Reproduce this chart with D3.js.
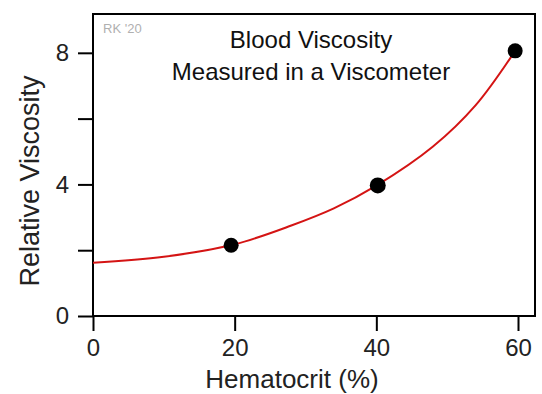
<!DOCTYPE html>
<html lang="en">
<head>
  <meta charset="utf-8">
  <title>Blood Viscosity</title>
  <style>
    body { margin: 0; background: #fff; font-family: 'Liberation Sans', Arial, sans-serif; }
    .axis path, .axis line { stroke: #000; stroke-width: 2; }
    .axis text { font-size: 24px; fill: #222; font-family: 'Liberation Sans', Arial, sans-serif; }
  </style>
</head>
<body>
  <div id="chart"></div>
  <script src="https://d3js.org/d3.v7.min.js"></script>
  <script>
    // measured points
    var hematocrit = [19.5, 40.2, 59.6];
    var viscosity = [2.15, 3.97, 8.06];

    // fitted curve
    var fitHematocrit = [0, 10, 20, 28, 34, 40, 48, 54, 59.6];
    var fitViscosity = [1.62, 1.8, 2.18, 2.75, 3.27, 3.96, 5.15, 6.4, 8.06];

    var xTicks = [0, 20, 40, 60];
    var yTicks = [0, 2, 4, 6, 8];
    var yLabelled = [0, 4, 8];

    var margin = { top: 14, right: 7, bottom: 78, left: 93 };
    var width = 542 - margin.left - margin.right;
    var height = 394 - margin.top - margin.bottom;

    var svg = d3.select("#chart")
      .append("svg")
      .attr("width", 542)
      .attr("height", 394)
      .append("g")
      .attr("transform", "translate(" + margin.left + "," + margin.top + ")");

    var x = d3.scaleLinear().domain([0, 62.4]).range([0, width]);
    var y = d3.scaleLinear().domain([0, 9.18]).range([height, 0]);

    // x axis
    svg.append("g")
      .attr("class", "axis")
      .attr("transform", "translate(0," + height + ")")
      .call(d3.axisBottom(x).tickValues(xTicks).tickSize(15).tickPadding(8).tickSizeOuter(0))
      .call(function(g) { g.select(".domain").remove(); });

    // y axis
    svg.append("g")
      .attr("class", "axis")
      .call(d3.axisLeft(y).tickValues(yTicks).tickSize(15).tickPadding(9).tickSizeOuter(0)
        .tickFormat(function(d) { return yLabelled.indexOf(d) >= 0 ? d : ""; }))
      .call(function(g) { g.select(".domain").remove(); });

    // frame
    svg.append("rect")
      .attr("x", 0)
      .attr("y", 0)
      .attr("width", width)
      .attr("height", height)
      .attr("fill", "none")
      .attr("stroke", "#000")
      .attr("stroke-width", 2);

    // fit curve
    var fit = fitHematocrit.map(function(h, i) { return [h, fitViscosity[i]]; });
    svg.append("path")
      .datum(fit)
      .attr("fill", "none")
      .attr("stroke", "#d41414")
      .attr("stroke-width", 2)
      .attr("d", d3.line()
        .x(function(d) { return x(d[0]); })
        .y(function(d) { return y(d[1]); })
        .curve(d3.curveCatmullRom));

    // points
    svg.selectAll(".pt")
      .data(hematocrit)
      .enter()
      .append("circle")
      .attr("class", "pt")
      .attr("cx", function(d) { return x(d); })
      .attr("cy", function(d, i) { return y(viscosity[i]); })
      .attr("r", function(d, i) { return i == 1 ? 8 : 7.5; })
      .attr("fill", "#000");

    // signature
    svg.append("text")
      .attr("x", 10)
      .attr("y", 19)
      .style("font-size", "13px")
      .style("fill", "#b0b0b0")
      .text("RK '20");

    // title
    var title = svg.append("text")
      .attr("text-anchor", "middle")
      .style("font-size", "24px")
      .style("fill", "#111");
    title.append("tspan").attr("x", 218).attr("y", 34).text("Blood Viscosity");
    title.append("tspan").attr("x", 218).attr("y", 66).text("Measured in a Viscometer");

    // axis titles
    svg.append("text")
      .attr("x", 199)
      .attr("y", height + 72)
      .attr("text-anchor", "middle")
      .style("font-size", "26px")
      .style("fill", "#222")
      .text("Hematocrit (%)");

    svg.append("text")
      .attr("transform", "rotate(-90)")
      .attr("x", -167)
      .attr("y", -54)
      .attr("text-anchor", "middle")
      .style("font-size", "27px")
      .style("fill", "#222")
      .text("Relative Viscosity");
  </script>
</body>
</html>
